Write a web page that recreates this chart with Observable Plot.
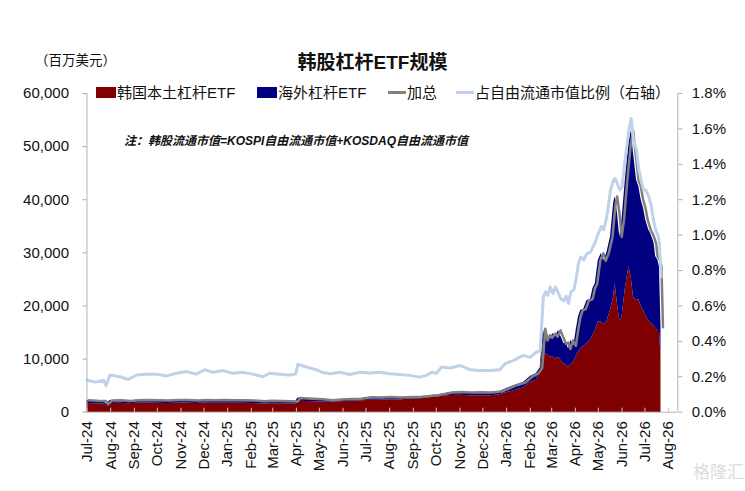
<!DOCTYPE html>
<html><head><meta charset="utf-8">
<script src="https://cdn.jsdelivr.net/npm/d3@7"></script>
<script src="https://cdn.jsdelivr.net/npm/@observablehq/plot@0.6"></script>
<style>
body{margin:0;background:#fff;}
#wrap{position:relative;width:745px;height:491px;overflow:hidden;font-family:"Liberation Sans","Noto Sans CJK SC",sans-serif;color:#111;}
.abs{position:absolute;white-space:nowrap;line-height:1;}
#chart{position:absolute;left:0;top:0;}
.key{position:absolute;}
</style></head><body>
<div id="wrap">
  <div id="chart"></div>
  <div class="abs" style="left:35px;top:54px;font-size:13.5px;">（百万美元）</div>
  <div class="abs" style="left:0;width:745px;top:53px;text-align:center;font-size:19px;font-weight:bold;">韩股杠杆ETF规模</div>
  <div id="legend"></div>
  <div class="abs" style="left:124px;top:135px;font-size:12px;font-weight:bold;font-style:italic;">注：韩股流通市值=KOSPI自由流通市值+KOSDAQ自由流通市值</div>
  <div class="abs" style="left:693px;top:464px;font-size:17px;color:#dcdcdc;">格隆汇</div>
</div>
<script>
// ---- data ----
const seriesNames = ["韩国本土杠杆ETF", "海外杠杆ETF"];
const legendNames = ["韩国本土杠杆ETF", "海外杠杆ETF", "加总", "占自由流通市值比例（右轴）"];
const dates = [
"2024-07-01","2024-07-12","2024-07-23","2024-07-26","2024-07-31","2024-08-13","2024-08-24","2024-09-04","2024-09-17","2024-09-30",
"2024-10-13","2024-10-26","2024-11-08","2024-11-21","2024-12-02","2024-12-13","2024-12-26","2025-01-08","2025-01-21","2025-02-03",
"2025-02-16","2025-02-25","2025-03-10","2025-03-23","2025-03-31","2025-04-03","2025-04-14","2025-04-27","2025-05-04","2025-05-15",
"2025-05-28","2025-06-10","2025-06-23","2025-07-06","2025-07-19","2025-08-01","2025-08-14","2025-08-27","2025-09-09","2025-09-18",
"2025-09-25","2025-10-01","2025-10-08","2025-10-19","2025-11-01","2025-11-14","2025-11-27","2025-12-10","2025-12-23","2025-12-30",
"2026-01-10","2026-01-23","2026-02-01","2026-02-09","2026-02-14","2026-02-18","2026-02-21","2026-02-24","2026-02-27","2026-03-03",
"2026-03-06","2026-03-10","2026-03-13","2026-03-17","2026-03-20","2026-03-23","2026-03-26","2026-03-30","2026-04-02","2026-04-05",
"2026-04-08","2026-04-12","2026-04-16","2026-04-21","2026-04-24","2026-04-27","2026-05-01","2026-05-05","2026-05-08","2026-05-12",
"2026-05-17","2026-05-21","2026-05-23","2026-05-26","2026-05-29","2026-06-01","2026-06-05","2026-06-10","2026-06-13","2026-06-16",
"2026-06-20","2026-06-23","2026-06-26","2026-06-29","2026-07-02","2026-07-06","2026-07-09","2026-07-13","2026-07-15","2026-07-18",
"2026-07-20","2026-07-22"];
// 加总 (millions USD)
const total = [
2250,2150,2100,1500,2200,2250,2100,2250,2300,2250,
2200,2300,2300,2200,2300,2250,2300,2250,2250,2200,
2050,2150,2100,2050,2000,2650,2600,2500,2450,2250,
2400,2500,2550,2800,2750,2850,2750,2850,2900,3000,
3150,3200,3400,3700,3800,3700,3750,3700,3900,4300,
5000,5600,6700,7300,8300,15700,13500,14500,14000,14800,
14200,15400,14300,12900,13100,11900,13500,12500,15400,17900,
19200,19400,21000,21300,23300,24200,28600,29900,28500,29900,
33000,39300,40600,37500,33000,36200,43100,50600,53000,48800,
43700,42500,40000,38500,36200,34300,33500,31800,29300,28600,
27400,16000];
// 韩国本土杠杆ETF (millions USD)
const domestic = [
1650,1600,1550,1050,1650,1700,1600,1700,1750,1700,
1650,1700,1750,1650,1750,1700,1700,1700,1700,1650,
1550,1600,1600,1550,1500,2050,2000,1950,1900,1850,
1950,2050,2100,2250,2250,2350,2300,2500,2500,2650,
2800,2850,2950,3150,3200,3100,3100,3100,3250,3600,
4000,4600,5600,6000,7500,13000,11000,10700,10400,10500,
10000,10300,9800,9100,8900,8400,9000,9400,10500,11300,
11800,12400,12900,13600,14500,15400,17000,17000,16500,17000,
19200,21700,24200,20500,17300,17800,22900,27400,25500,21700,
21000,21200,20000,19200,18200,17300,16700,16300,15800,15400,
15400,10400];
// 占自由流通市值比例 (%)
const ratio = [
0.18,0.17,0.18,0.15,0.21,0.20,0.185,0.21,0.215,0.215,
0.205,0.22,0.23,0.215,0.24,0.225,0.235,0.22,0.225,0.215,
0.20,0.22,0.215,0.21,0.215,0.27,0.255,0.24,0.226,0.217,
0.226,0.213,0.226,0.221,0.226,0.217,0.213,0.208,0.198,0.208,
0.226,0.22,0.255,0.25,0.264,0.24,0.236,0.236,0.24,0.274,
0.293,0.321,0.31,0.34,0.345,0.65,0.68,0.66,0.707,0.67,
0.707,0.67,0.64,0.63,0.655,0.613,0.68,0.69,0.755,0.84,
0.877,0.86,0.896,0.905,0.934,0.96,1.01,1.05,1.03,1.10,
1.255,1.31,1.32,1.29,1.255,1.27,1.424,1.594,1.66,1.538,
1.48,1.37,1.31,1.255,1.255,1.217,1.17,1.066,1.03,1.0,
0.953,0.764];
const leftTicks = [0, 10000, 20000, 30000, 40000, 50000, 60000];
const rightTicks = [0, 0.2, 0.4, 0.6, 0.8, 1.0, 1.2, 1.4, 1.6, 1.8];
const xDomain = ["2024-07-01", "2026-08-13"];
const xTickRange = ["2024-07-01", "2026-08-02"];

// ---- build ----
const parse = d3.utcParse("%Y-%m-%d");
const K = 60000 / 1.8; // left units per 1% on right axis
const colors = {red: "#7f0000", navy: "#000080", gray: "#808080", light: "#bfd2ea"};
const rows = [];
dates.forEach((d, i) => {
  rows.push({date: parse(d), series: seriesNames[0], value: domestic[i]});
  rows.push({date: parse(d), series: seriesNames[1], value: total[i] - domestic[i]});
});
const totalRows = dates.map((d, i) => ({date: parse(d), value: total[i]}));
const ratioRows = dates.map((d, i) => ({date: parse(d), value: ratio[i] * K}));
const xTicks = d3.utcMonth.range(parse(xTickRange[0]), parse(xTickRange[1]));
const x0 = parse(xDomain[0]), x1 = parse(xDomain[1]);

const chart = Plot.plot({
  width: 745, height: 491,
  marginLeft: 86.5, marginRight: 67.7, marginTop: 93, marginBottom: 79.3,
  style: {fontFamily: "Liberation Sans, Noto Sans CJK SC, sans-serif", fontSize: "15px", color: "#111", background: "transparent", overflow: "visible"},
  x: {type: "utc", domain: [x0, x1]},
  y: {domain: [0, 60000]},
  color: {domain: seriesNames, range: [colors.red, colors.navy]},
  marks: [
    Plot.ruleY([0], {stroke: "#b5b5b5"}),
    Plot.areaY(rows, {x: "date", y: "value", fill: "series", order: seriesNames}),
    Plot.tickX(xTicks, {x: d => d, insetTop: 314.7, stroke: "#c8c8c8"}),
    Plot.line(totalRows, {x: "date", y: "value", stroke: colors.gray, strokeWidth: 2.5, dx: 2}),
    Plot.line(ratioRows, {x: "date", y: "value", stroke: colors.light, strokeWidth: 3}),
    Plot.ruleX([x0], {stroke: "#b5b5b5"}),
    Plot.ruleX([x1], {stroke: "#b5b5b5"}),
    Plot.axisY({ticks: leftTicks, tickFormat: d3.format(","), tickSize: 4, tickPadding: 14, stroke: "#aaa", fill: "#111", fontSize: 15, label: null}),
    Plot.axisY({anchor: "right", ticks: rightTicks.map(r => r * K), tickFormat: v => (v / K).toFixed(1) + "%", tickSize: 4, tickPadding: 10, stroke: "#aaa", fill: "#111", fontSize: 15, label: null}),
    Plot.axisX({ticks: xTicks, tickFormat: d3.utcFormat("%b-%y"), tickRotate: -90, tickSize: 0, tickPadding: 9, fill: "#111", fontSize: 15, label: null})
  ]
});
document.getElementById("chart").appendChild(chart);

// ---- legend ----
const legend = document.getElementById("legend");
const items = [
  {label: legendNames[0], left: 96, type: "box", color: colors.red},
  {label: legendNames[1], left: 257, type: "box", color: colors.navy},
  {label: legendNames[2], left: 388, type: "dash", color: colors.gray},
  {label: legendNames[3], left: 456, type: "dash", color: colors.light}
];
items.forEach(it => {
  const key = document.createElement("div");
  key.className = "key";
  if (it.type === "box") {
    Object.assign(key.style, {left: it.left + "px", top: "87px", width: "20px", height: "11px", background: it.color});
  } else {
    Object.assign(key.style, {left: it.left + "px", top: "91px", width: "18px", height: "3px", background: it.color});
  }
  legend.appendChild(key);
  const t = document.createElement("div");
  t.className = "abs";
  t.textContent = it.label;
  Object.assign(t.style, {left: (it.left + (it.type === "box" ? 21 : 19)) + "px", top: "85px", fontSize: "15px"});
  legend.appendChild(t);
});
</script>
</body></html>
